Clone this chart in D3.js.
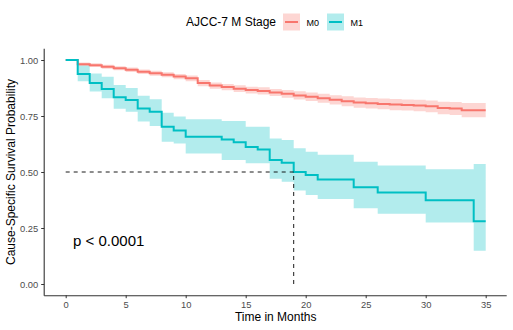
<!DOCTYPE html>
<html><head><meta charset="utf-8">
<script src="https://cdn.jsdelivr.net/npm/d3@7"></script>
<style>body{margin:0;background:#fff}svg{display:block;font-family:"Liberation Sans",Arial,sans-serif}</style>
</head><body>
<svg id="c" width="513" height="330"></svg>
<script>
const xTicks = [0,5,10,15,20,25,30,35];
const yTicks = [0,0.25,0.5,0.75,1];
const groups = ["M0","M1"];
const colors = ["#F8766D","#00BFC4"];

const m0Time = [0,1,2,3,4,5,6,7,8,9,10,11,12,13,14,15,16,17,18,19,20,21,22,23,24,25,26,27,28,29,30,31,32,33,34,35];
const m0Surv = [1,0.981,0.977,0.970,0.963,0.956,0.948,0.941,0.934,0.926,0.918,0.897,0.886,0.879,0.872,0.866,0.862,0.855,0.849,0.842,0.836,0.829,0.822,0.816,0.810,0.807,0.804,0.801,0.799,0.797,0.793,0.786,0.784,0.776,0.776,0.776];
const m0Upper = [1,0.989,0.985,0.979,0.972,0.966,0.958,0.952,0.945,0.938,0.931,0.911,0.900,0.893,0.887,0.881,0.878,0.871,0.866,0.860,0.855,0.849,0.843,0.838,0.833,0.830,0.828,0.826,0.824,0.822,0.819,0.814,0.812,0.808,0.808,0.808];
const m0Lower = [1,0.973,0.969,0.961,0.954,0.946,0.938,0.930,0.923,0.914,0.905,0.883,0.872,0.865,0.857,0.851,0.846,0.839,0.832,0.824,0.817,0.809,0.801,0.794,0.787,0.784,0.780,0.776,0.774,0.771,0.767,0.758,0.755,0.744,0.744,0.744];

const m1Time = [0,1,2,3,4,5,6,7,8,9,10,13,14,15,16,17,18,19,20,21,24,26,30,34,35];
const m1Surv = [1,0.9375,0.897,0.871,0.834,0.821,0.784,0.769,0.702,0.685,0.657,0.645,0.633,0.612,0.601,0.554,0.541,0.500,0.487,0.467,0.432,0.408,0.374,0.280,0.280];
const m1Upper = [1,0.975,0.940,0.925,0.888,0.875,0.840,0.825,0.765,0.748,0.735,0.728,0.728,0.702,0.702,0.650,0.643,0.606,0.590,0.577,0.546,0.529,0.512,0.536,0.536];
const m1Lower = [1,0.905,0.859,0.829,0.782,0.769,0.725,0.705,0.635,0.627,0.583,0.554,0.554,0.539,0.539,0.470,0.457,0.417,0.397,0.380,0.338,0.314,0.275,0.148,0.148];

const medianTime = 19, medianSurv = 0.5;
const pText = "p < 0.0001";

const svg = d3.select("#c");
const x = d3.scaleLinear().domain([-1.75, 36.75]).range([44.7, 506.7]);
const y = d3.scaleLinear().domain([-0.05, 1.05]).range([295.2, 48.8]);

const series = [
  {t:m0Time, s:m0Surv, u:m0Upper, l:m0Lower, c:colors[0]},
  {t:m1Time, s:m1Surv, u:m1Upper, l:m1Lower, c:colors[1]}
];
const area = d3.area().curve(d3.curveStepAfter).x(d=>x(d.t)).y0(d=>y(d.l)).y1(d=>y(d.u));
const line = d3.line().curve(d3.curveStepAfter).x(d=>x(d.t)).y(d=>y(d.s));

series.forEach(S=>{
  const pts = S.t.map((t,i)=>({t, s:S.s[i], u:S.u[i], l:S.l[i]}));
  svg.append("path").attr("d", area(pts)).attr("fill", S.c).attr("fill-opacity", 0.3);
});
series.forEach(S=>{
  const pts = S.t.map((t,i)=>({t, s:S.s[i]}));
  svg.append("path").attr("d", line(pts)).attr("fill","none").attr("stroke", S.c).attr("stroke-width", 2);
});

// median lines
svg.append("path")
  .attr("d", d3.line()([[x(0), y(medianSurv)],[x(medianTime), y(medianSurv)],[x(medianTime), y(0)]]))
  .attr("fill","none").attr("stroke","#000").attr("stroke-width",0.9).attr("stroke-dasharray","4,4");

// axes
const xAxis = d3.axisBottom(x).tickValues(xTicks).tickSize(3).tickPadding(3).tickFormat(d3.format("d"));
const yAxis = d3.axisLeft(y).tickValues(yTicks).tickSize(3).tickPadding(3).tickFormat(d3.format(".2f"));
const gx = svg.append("g").attr("transform","translate(0,295.2)").call(xAxis);
const gy = svg.append("g").attr("transform","translate(44.2,0)").call(yAxis);
[gx,gy].forEach(g=>{
  g.select(".domain").attr("stroke","#333").attr("stroke-width",1.1);
  g.selectAll(".tick line").attr("stroke","#333").attr("stroke-width",1);
  g.selectAll(".tick text").attr("fill","#4D4D4D").style("font-size","9.4px").style("font-family","Liberation Sans, Arial, sans-serif");
});
gx.select(".domain").attr("d","M44.2,0.5H506.7");
gy.select(".domain").attr("d","M0,48.8V295.7");

// titles
svg.append("text").attr("x",275.7).attr("y",321).attr("text-anchor","middle").style("font-size","12px").attr("fill","#000").text("Time in Months");
svg.append("text").attr("transform","translate(15,172) rotate(-90)").attr("text-anchor","middle").style("font-size","12px").attr("fill","#000").text("Cause-Specific Survival Probability");

// p value
svg.append("text").attr("x",73).attr("y",246).style("font-size","15px").attr("fill","#000").text(pText);

// legend
svg.append("text").attr("x",186).attr("y",26).style("font-size","12px").attr("fill","#000").text("AJCC-7 M Stage");
const lx = [283, 327];
groups.forEach((g,i)=>{
  const gg = svg.append("g").attr("transform",`translate(${lx[i]},13.5)`);
  gg.append("rect").attr("width",17).attr("height",17).attr("fill",colors[i]).attr("fill-opacity",0.3);
  gg.append("line").attr("x1",2).attr("x2",15).attr("y1",8.5).attr("y2",8.5).attr("stroke",colors[i]).attr("stroke-width",2);
  svg.append("text").attr("x",lx[i]+23.5).attr("y",25.5).style("font-size","9px").attr("fill","#000").text(g);
});
</script>
</body></html>
